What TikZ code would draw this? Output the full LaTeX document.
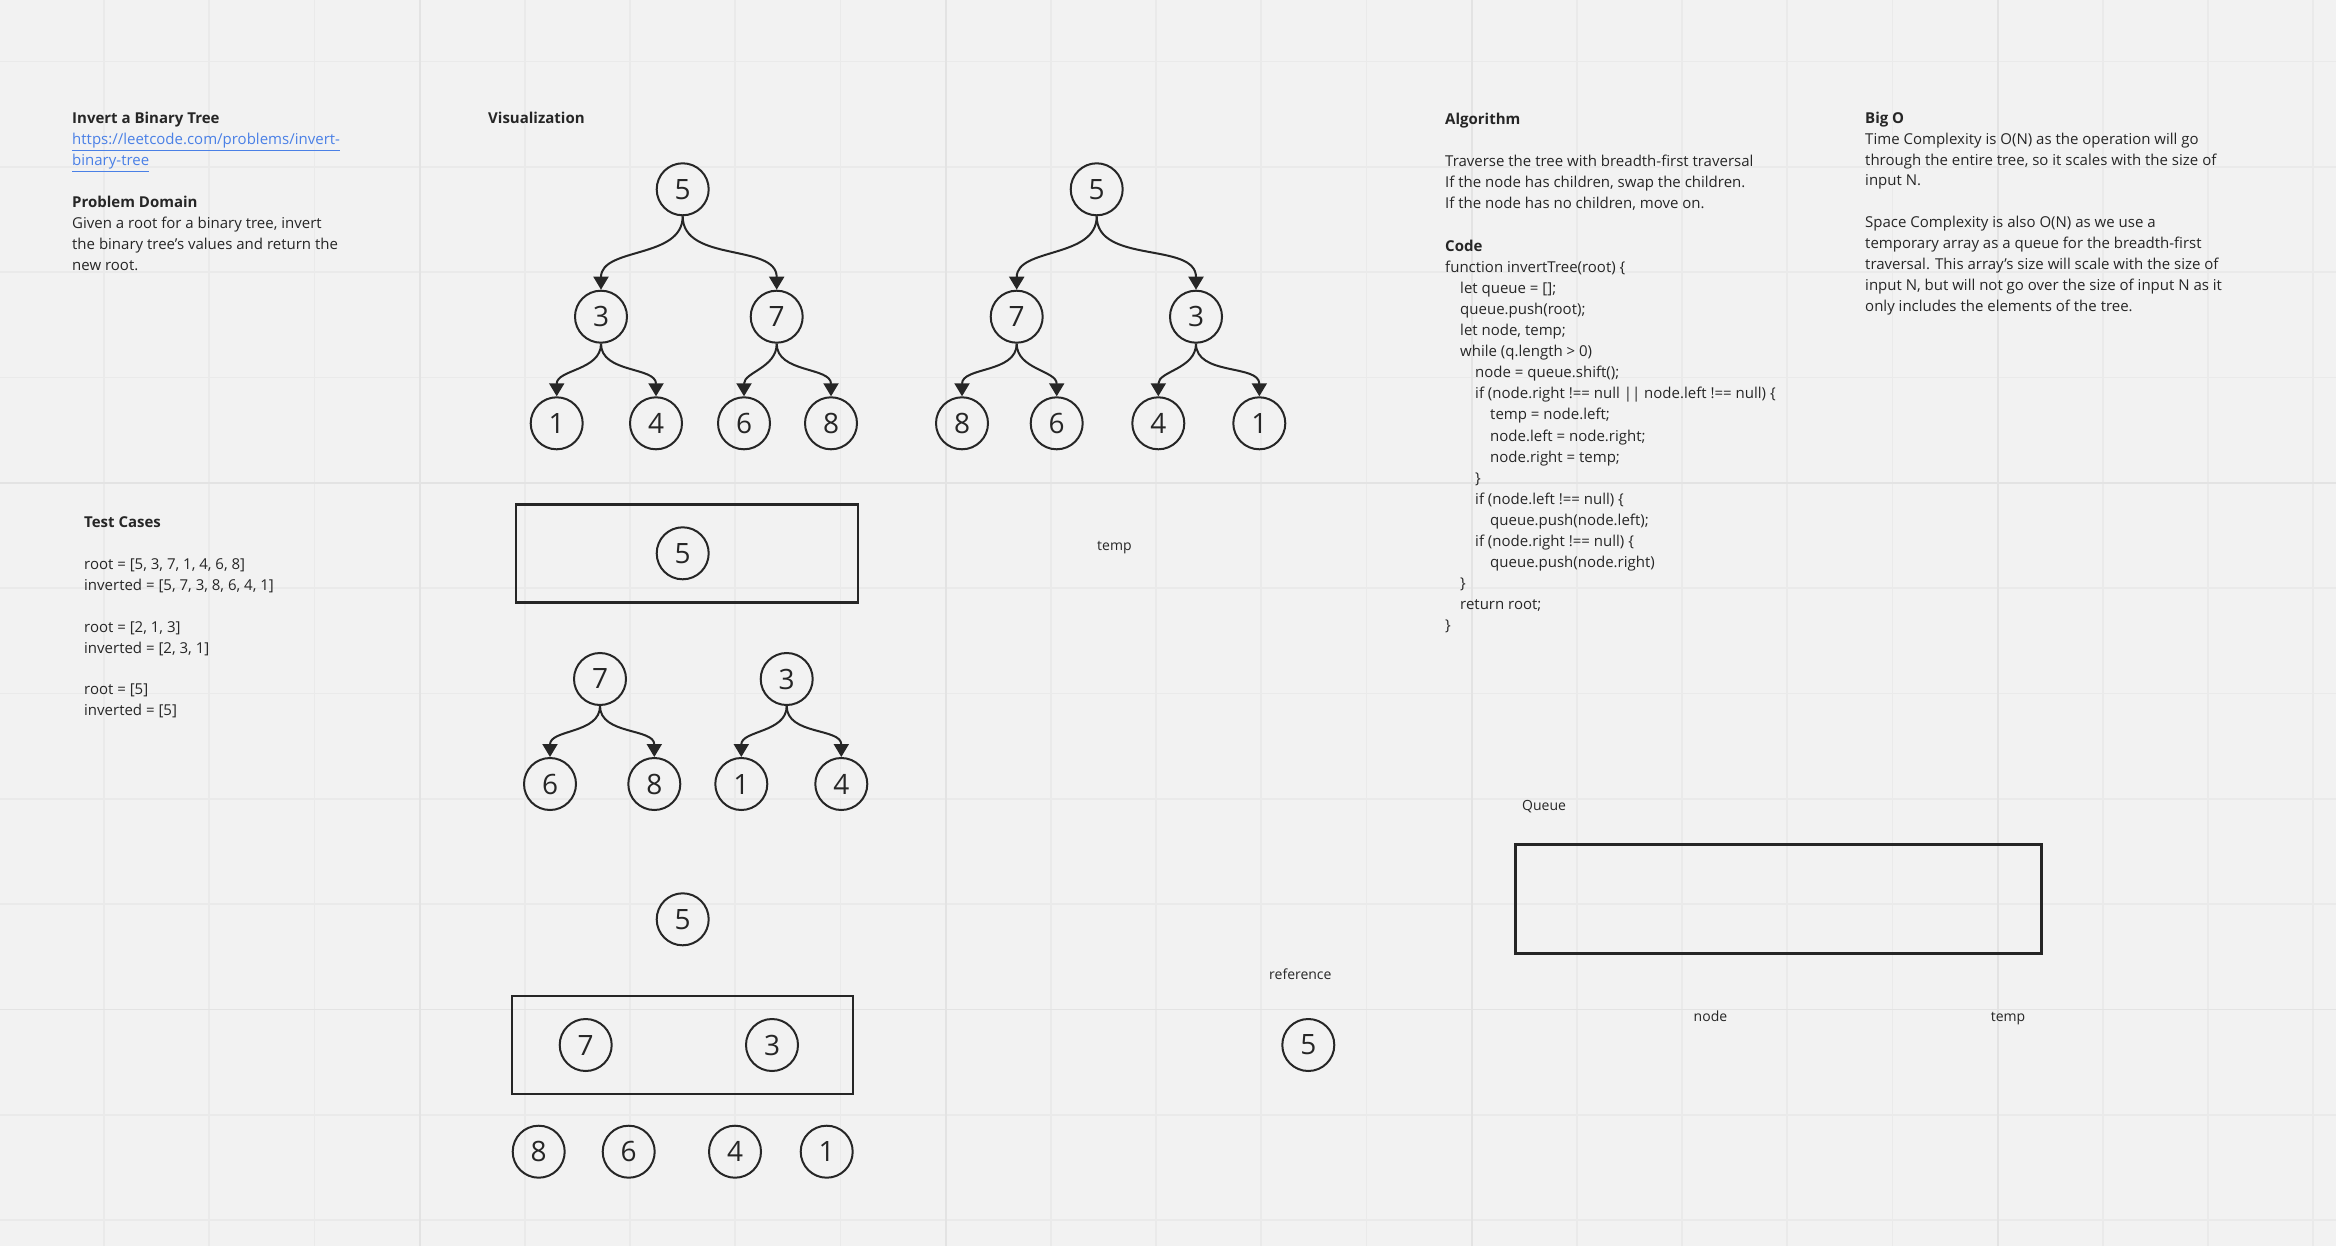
\documentclass[tikz,border=0pt]{standalone}
\usepackage{fontspec}
\setmainfont{Open Sans}
\usepackage{xcolor}
\usetikzlibrary{arrows.meta}

\definecolor{paper}{HTML}{F2F2F2}
\definecolor{gridminor}{HTML}{EAEAEA}
\definecolor{gridmajor}{HTML}{E3E3E3}
\definecolor{ink}{HTML}{262626}
\definecolor{link}{HTML}{4A80E6}

\begin{document}
\begin{tikzpicture}[x=1pt, y=-1pt,
      txt/.style={anchor=base west, inner sep=0pt, text=ink,
        font=\fontsize{15}{20.9}\selectfont},
      code/.style={txt, font=\fontsize{15}{21.1}\selectfont},
      lbl/.style={txt, font=\fontsize{14}{18}\selectfont},
      vert/.style={circle, draw=ink, line width=2pt, minimum size=52pt,
        inner sep=0pt, text=ink, font=\fontsize{28}{28}\selectfont},
      edge/.style={draw=ink, line width=2pt, -{Triangle[length=13pt,width=15pt]}},
      box/.style={draw=ink, line width=2.2pt, inner sep=0pt},
      minor/.style={draw=gridminor, line width=1.6pt},
      major/.style={draw=gridmajor, line width=1.8pt}]
    \useasboundingbox (0,0) rectangle (2336,1246);
    \fill[paper] (0,0) rectangle (2336,1246);
    \foreach \k in {0,...,22}
      \draw[minor] ({-1.2+105.2*\k},0) -- ++(0,1246);
    \foreach \k in {0,...,11}
      \draw[minor] (0,{61.7+105.3*\k}) -- ++(2336,0);
    \foreach \k in {4,9,14,19}
      \draw[major] ({-1.2+105.2*\k},0) -- ++(0,1246);
    \foreach \k in {4,9}
      \draw[major] (0,{61.7+105.3*\k}) -- ++(2336,0);

    % notes
    \node[txt] (intro) at (72,124) {\parbox[t]{330pt}{\textbf{Invert a Binary Tree}\\
      \textcolor{link}{\underline{https://leetcode.com/problems/invert-}}\\
      \textcolor{link}{\underline{binary-tree}}\\[20.9pt]
      \textbf{Problem Domain}\\
      Given a root for a binary tree, invert\\
      the binary tree's values and return the\\
      new root.}};
    \node[txt] (tests) at (84,527.7) {\parbox[t]{330pt}{\textbf{Test Cases}\\[20.9pt]
      root = [5, 3, 7, 1, 4, 6, 8]\\
      inverted = [5, 7, 3, 8, 6, 4, 1]\\[20.9pt]
      root = [2, 1, 3]\\
      inverted = [2, 3, 1]\\[20.9pt]
      root = [5]\\
      inverted = [5]}};
    \node[txt] (vis) at (488,124) {\textbf{Visualization}};
    \node[code] (algo) at (1445,124.6) {\parbox[t]{400pt}{\textbf{Algorithm}\\[21.1pt]
      Traverse the tree with breadth-first traversal\\
      If the node has children, swap the children.\\
      If the node has no children, move on.\\[21.1pt]
      \textbf{Code}\\
      function invertTree(root) \{\\
      \hspace*{15pt}let queue = [];\\
      \hspace*{15pt}queue.push(root);\\
      \hspace*{15pt}let node, temp;\\
      \hspace*{15pt}while (q.length > 0)\\
      \hspace*{30pt}node = queue.shift();\\
      \hspace*{30pt}if (node.right !== null || node.left !== null) \{\\
      \hspace*{45pt}temp = node.left;\\
      \hspace*{45pt}node.left = node.right;\\
      \hspace*{45pt}node.right = temp;\\
      \hspace*{30pt}\}\\
      \hspace*{30pt}if (node.left !== null) \{\\
      \hspace*{45pt}queue.push(node.left);\\
      \hspace*{30pt}if (node.right !== null) \{\\
      \hspace*{45pt}queue.push(node.right)\\
      \hspace*{15pt}\}\\
      \hspace*{15pt}return root;\\
      \}}};
    \node[txt] (bigo) at (1865,123.3) {\parbox[t]{420pt}{\textbf{Big O}\\
      Time Complexity is O(N) as the operation will go\\
      through the entire tree, so it scales with the size of\\
      input N.\\[20.9pt]
      Space Complexity is also O(N) as we use a\\
      temporary array as a queue for the breadth-first\\
      traversal. This array's size will scale with the size of\\
      input N, but will not go over the size of input N as it\\
      only includes the elements of the tree.}};

    % original tree
    \node[vert] (a5) at (682.7,189.3) {5};
    \node[vert] (a3) at (601,316.7) {3};
    \node[vert] (a7) at (776.7,316.7) {7};
    \node[vert] (a1) at (556.7,423.3) {1};
    \node[vert] (a4) at (656,423.3) {4};
    \node[vert] (a6) at (744,423.3) {6};
    \node[vert] (a8) at (831,423.3) {8};
    % inverted tree
    \node[vert] (b5) at (1096.7,189.3) {5};
    \node[vert] (b7) at (1016.7,316.7) {7};
    \node[vert] (b3) at (1196,316.7) {3};
    \node[vert] (b8) at (962,423.3) {8};
    \node[vert] (b6) at (1056.7,423.3) {6};
    \node[vert] (b4) at (1158.3,423.3) {4};
    \node[vert] (b1) at (1259.3,423.3) {1};

    % queue steps
    \node[box, minimum width=342pt, minimum height=98pt] (q1) at (687,553.5) {};
    \node[vert] (c5) at (682.7,553.3) {5};
    \node[vert] (c7) at (600,679) {7};
    \node[vert] (c3) at (786.7,679) {3};
    \node[vert] (c6) at (550,784) {6};
    \node[vert] (c8) at (654.3,784) {8};
    \node[vert] (c1) at (741.3,784) {1};
    \node[vert] (c4) at (841.3,784) {4};

    \node[vert] (d5) at (682.7,919.3) {5};
    \node[box, minimum width=341pt, minimum height=98pt] (q2) at (682.7,1045) {};
    \node[vert] (d7) at (585.7,1045) {7};
    \node[vert] (d3) at (772,1045) {3};
    \node[vert] (d8) at (538.7,1151.7) {8};
    \node[vert] (d6) at (628.7,1151.7) {6};
    \node[vert] (d4) at (735,1151.7) {4};
    \node[vert] (d1) at (826.7,1151.7) {1};

    \foreach \p/\c in {a5/a3, a5/a7, a3/a1, a3/a4, a7/a6, a7/a8,
        b5/b7, b5/b3, b7/b8, b7/b6, b3/b4, b3/b1,
        c7/c6, c7/c8, c3/c1, c3/c4}
      \draw[edge] (\p.south) to[out=-90, in=90] (\c.north);

    % scratch area
    \node[lbl] (tmp1) at (1097,550) {temp};
    \node[lbl] (queue) at (1522,810.7) {Queue};
    \node[box, minimum width=526pt, minimum height=109pt] (qbox) at (1778.4,898.9) {};
    \node[lbl] (ref) at (1269,979) {reference};
    \node[vert] (r5) at (1308.3,1045) {5};
    \node[lbl] (nd) at (1693.5,1021.7) {node};
    \node[lbl] (tmp2) at (1990.7,1021.7) {temp};
  \end{tikzpicture}
\end{document}
